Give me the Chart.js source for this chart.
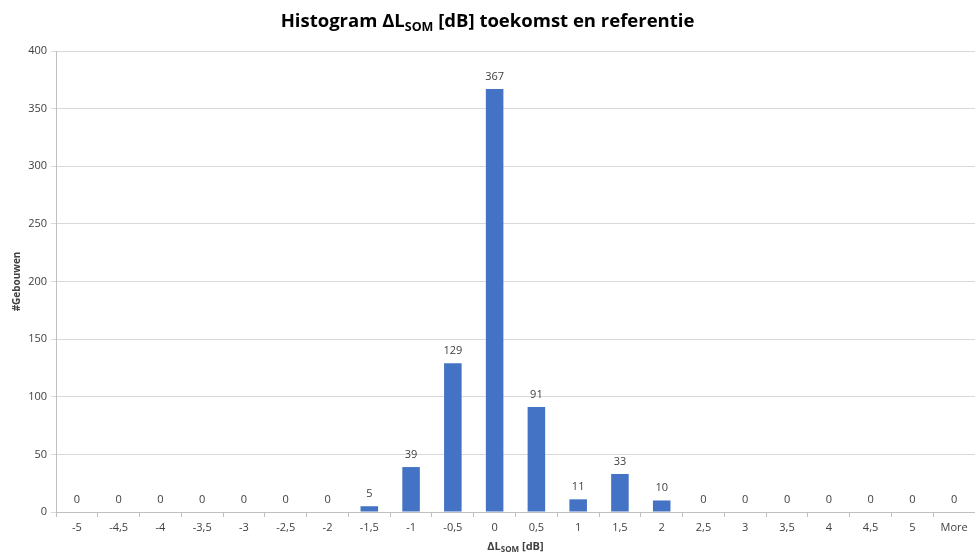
<!DOCTYPE html>
<html>
<head>
<meta charset="utf-8">
<script src="https://cdn.jsdelivr.net/npm/chart.js@4/dist/chart.umd.min.js"></script>
<style>
html,body{margin:0;padding:0;background:#fff;}
#wrap{width:975px;height:553px;position:relative;}
</style>
</head>
<body>
<div id="wrap"><canvas id="c" width="975" height="553"></canvas></div>
<script>
const categories = ["-5","-4,5","-4","-3,5","-3","-2,5","-2","-1,5","-1","-0,5","0","0,5","1","1,5","2","2,5","3","3,5","4","4,5","5","More"];
const counts = [0,0,0,0,0,0,0,5,39,129,367,91,11,33,10,0,0,0,0,0,0,0];
const yTicks = [0,50,100,150,200,250,300,350,400];

const FONT = "'Open Sans', 'Noto Sans', sans-serif";

function drawRich(ctx, parts, cx, baseline) {
  let total = 0;
  parts.forEach(p => { ctx.font = p.font; p.w = ctx.measureText(p.text).width; total += p.w; });
  let x = cx - total / 2;
  ctx.textAlign = 'left';
  ctx.textBaseline = 'alphabetic';
  parts.forEach(p => { ctx.font = p.font; ctx.fillText(p.text, x, baseline + (p.dy || 0)); x += p.w; });
}

const customText = {
  id: 'customText',
  afterDraw(chart) {
    const ctx = chart.ctx;
    const ca = chart.chartArea;
    ctx.save();
    ctx.fillStyle = '#000000';
    drawRich(ctx, [
      {text: 'Histogram \u0394L', font: 'bold 18.5px ' + FONT},
      {text: 'SOM', font: 'bold 12.5px ' + FONT, dy: 4},
      {text: ' [dB] toekomst en referentie', font: 'bold 18.5px ' + FONT}
    ], chart.width / 2, 27);
    ctx.fillStyle = '#404040';
    drawRich(ctx, [
      {text: '\u0394L', font: 'bold 11px ' + FONT},
      {text: 'SOM', font: 'bold 8px ' + FONT, dy: 2},
      {text: ' [dB]', font: 'bold 11px ' + FONT}
    ], (ca.left + ca.right) / 2, 550);
    ctx.translate(17, (ca.top + ca.bottom) / 2);
    ctx.rotate(-Math.PI / 2);
    ctx.font = 'bold 10px ' + FONT;
    ctx.textAlign = 'center';
    ctx.textBaseline = 'middle';
    ctx.fillText('#Gebouwen', 0, 0);
    ctx.restore();
  },
  afterDatasetsDraw(chart) {
    const ctx = chart.ctx;
    const meta = chart.getDatasetMeta(0);
    ctx.save();
    ctx.font = '11px ' + FONT;
    ctx.fillStyle = '#404040';
    ctx.textAlign = 'center';
    ctx.textBaseline = 'bottom';
    meta.data.forEach((bar, i) => {
      ctx.fillText(String(counts[i]), bar.x, bar.y - 7);
    });
    ctx.restore();
  }
};

new Chart(document.getElementById('c'), {
  type: 'bar',
  data: {
    labels: categories,
    datasets: [{
      data: counts,
      backgroundColor: '#4472C4',
      borderWidth: 0,
      categoryPercentage: 1.0,
      barPercentage: 0.42
    }]
  },
  options: {
    responsive: false,
    animation: false,
    layout: {padding: {top: 51, right: 0, bottom: 0, left: 0}},
    plugins: {legend: {display: false}, title: {display: false}, tooltip: {enabled: false}},
    scales: {
      x: {
        offset: true,
        grid: {offset: true, drawOnChartArea: false, drawTicks: true, tickLength: 5, color: '#bfbfbf'},
        border: {color: '#bfbfbf'},
        ticks: {color: '#404040', font: {family: FONT, size: 11}, padding: 4, maxRotation: 0, autoSkip: false},
        afterFit(s) { s.height = 41; }
      },
      y: {
        min: 0, max: 400,
        afterBuildTicks(s) { s.ticks = yTicks.map(v => ({value: v})); },
        grid: {color: '#d9d9d9', tickLength: 5, drawTicks: true},
        border: {color: '#bfbfbf'},
        ticks: {color: '#404040', font: {family: FONT, size: 11}, padding: 4},
        afterFit(s) { s.width = 56; }
      }
    }
  },
  plugins: [customText]
});
</script>
</body>
</html>
